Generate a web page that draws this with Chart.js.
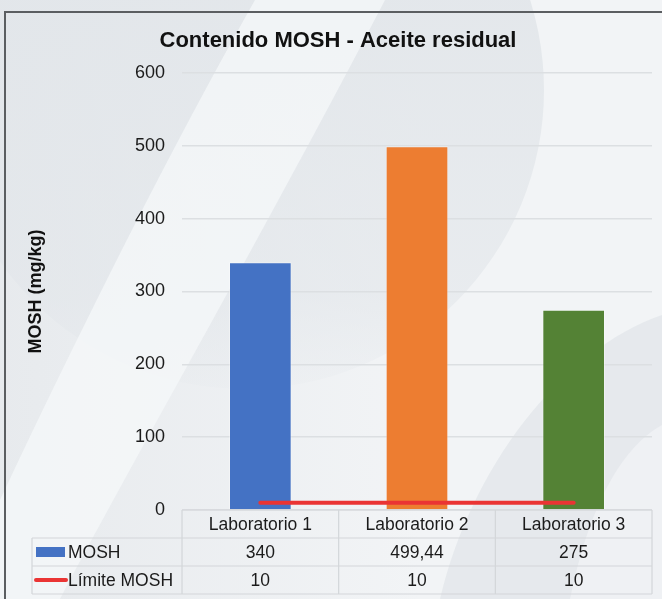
<!DOCTYPE html>
<html>
<head>
<meta charset="utf-8">
<script src="https://cdn.jsdelivr.net/npm/chart.js@4/dist/chart.umd.min.js"></script>
<style>
  html, body { margin: 0; padding: 0; background: #eceff2; }
  #wrap { width: 662px; height: 599px; }
</style>
</head>
<body>
<div id="wrap"><canvas id="c" width="662" height="599"></canvas></div>
<script>
// Data
const categories = ['Laboratorio 1', 'Laboratorio 2', 'Laboratorio 3'];
const moshValues = [340, 499.44, 275];
const limitValues = [10, 10, 10];
const seriesNames = ['MOSH', 'Límite MOSH'];
const yTicks = [0, 100, 200, 300, 400, 500, 600];
const chartTitle = 'Contenido MOSH - Aceite residual';
const yAxisTitle = 'MOSH (mg/kg)';

// Styles
const barColors = ['#4472c4', '#ed7d31', '#548235'];
const limitColor = '#ea3434';
const FONT = "'Liberation Sans', Arial, Helvetica, sans-serif";
const TEXT = '#1b1b1b';
const LINE = '#d3d6d9';

const fmt = v => String(v).replace('.', ',');

// Soft watermark shapes behind the chart and the outer frame
const backdrop = {
  id: 'backdrop',
  beforeDraw(chart) {
    const ctx = chart.ctx;
    const W = chart.width, H = chart.height;
    ctx.save();
    ctx.fillStyle = '#f2f4f6';
    ctx.fillRect(0, 0, W, H);

    // left half slightly darker, fading out
    let g = ctx.createLinearGradient(0, 0, 420, 0);
    g.addColorStop(0, 'rgba(222,226,230,0.55)');
    g.addColorStop(1, 'rgba(222,226,230,0)');
    ctx.fillStyle = g;
    ctx.fillRect(0, 0, 420, H);

    // large round shape, upper middle, fading downwards
    g = ctx.createLinearGradient(0, 0, 0, 420);
    g.addColorStop(0, 'rgba(226,230,234,0.9)');
    g.addColorStop(0.7, 'rgba(226,230,234,0.6)');
    g.addColorStop(1, 'rgba(226,230,234,0)');
    ctx.fillStyle = g;
    ctx.beginPath();
    ctx.arc(245, 90, 299, 0, Math.PI * 2);
    ctx.fill();

    // light diagonal sweep
    ctx.fillStyle = 'rgba(246,248,250,0.75)';
    ctx.beginPath();
    ctx.moveTo(255, 0);
    ctx.bezierCurveTo(170, 150, 80, 330, 0, 500);
    ctx.lineTo(0, 599); ctx.lineTo(60, 599);
    ctx.bezierCurveTo(150, 430, 260, 240, 385, 0);
    ctx.closePath();
    ctx.fill();

    // lower right crescent
    ctx.fillStyle = 'rgba(226,230,234,0.75)';
    ctx.beginPath();
    ctx.moveTo(440, 599);
    ctx.bezierCurveTo(470, 470, 560, 350, 662, 315);
    ctx.lineTo(662, 599);
    ctx.closePath();
    ctx.fill();
    ctx.fillStyle = 'rgba(242,244,246,0.7)';
    ctx.beginPath();
    ctx.moveTo(570, 599);
    ctx.bezierCurveTo(590, 500, 625, 445, 662, 425);
    ctx.lineTo(662, 599);
    ctx.closePath();
    ctx.fill();

    // frame
    ctx.strokeStyle = '#5b5e61';
    ctx.lineWidth = 2;
    ctx.beginPath();
    ctx.moveTo(5, H + 2);
    ctx.lineTo(5, 12);
    ctx.lineTo(W + 2, 12);
    ctx.stroke();
    ctx.restore();
  }
};

// Chart heading
const heading = {
  id: 'heading',
  afterDraw(chart) {
    const ctx = chart.ctx;
    ctx.save();
    ctx.font = 'bold 22px ' + FONT;
    ctx.fillStyle = '#111';
    ctx.textAlign = 'center';
    ctx.textBaseline = 'alphabetic';
    ctx.fillText(chartTitle, 338, 47);
    ctx.restore();
  }
};

// Data table under the plot, aligned with the category scale
const dataTable = {
  id: 'dataTable',
  afterDraw(chart) {
    const ctx = chart.ctx;
    const x = chart.scales.x;
    const area = chart.chartArea;
    const rowH = 28;
    const top = area.bottom;
    const tableLeft = 32;
    const n = categories.length;
    const colW = (area.right - area.left) / n;
    const bounds = [];
    for (let i = 0; i <= n; i++) bounds.push(area.left + colW * i);

    ctx.save();
    ctx.strokeStyle = LINE;
    ctx.lineWidth = 1.2;
    ctx.beginPath();
    ctx.moveTo(area.left, top); ctx.lineTo(area.right, top);
    for (let r = 1; r <= 3; r++) {
      ctx.moveTo(tableLeft, top + rowH * r);
      ctx.lineTo(area.right, top + rowH * r);
    }
    bounds.forEach(b => { ctx.moveTo(b, top); ctx.lineTo(b, top + rowH * 3); });
    ctx.moveTo(tableLeft, top + rowH); ctx.lineTo(tableLeft, top + rowH * 3);
    ctx.stroke();

    ctx.font = '17.5px ' + FONT;
    ctx.fillStyle = TEXT;
    ctx.textAlign = 'center';
    ctx.textBaseline = 'middle';
    categories.forEach((c, i) => {
      const cx = x.getPixelForValue(i);
      ctx.fillText(c, cx, top + rowH * 0.5 + 1);
      ctx.fillText(fmt(moshValues[i]), cx, top + rowH * 1.5 + 1);
      ctx.fillText(fmt(limitValues[i]), cx, top + rowH * 2.5 + 1);
    });

    // series keys
    const y1 = top + rowH * 1.5, y2 = top + rowH * 2.5;
    ctx.fillStyle = barColors[0];
    ctx.fillRect(36, y1 - 5, 29, 10);
    ctx.strokeStyle = limitColor;
    ctx.lineWidth = 4;
    ctx.lineCap = 'round';
    ctx.beginPath();
    ctx.moveTo(36, y2); ctx.lineTo(66, y2);
    ctx.stroke();
    ctx.fillStyle = TEXT;
    ctx.textAlign = 'left';
    ctx.fillText(seriesNames[0], 68, y1 + 1);
    ctx.fillText(seriesNames[1], 68, y2 + 1);
    ctx.restore();
  }
};

new Chart(document.getElementById('c'), {
  data: {
    labels: categories,
    datasets: [
      {
        type: 'line',
        label: seriesNames[1],
        data: limitValues,
        borderColor: limitColor,
        borderWidth: 4,
        borderCapStyle: 'round',
        pointRadius: 0,
        order: 0
      },
      {
        type: 'bar',
        label: seriesNames[0],
        data: moshValues,
        backgroundColor: barColors,
        borderColor: 'rgba(255,255,255,0.35)',
        borderWidth: 1,
        categoryPercentage: 1,
        barPercentage: 0.4,
        order: 1
      }
    ]
  },
  options: {
    responsive: false,
    animation: false,
    layout: { padding: { left: 0, right: 10, top: 73, bottom: 89 } },
    plugins: {
      legend: { display: false },
      title: { display: false },
      tooltip: { enabled: false }
    },
    scales: {
      x: { display: false, offset: true },
      y: {
        min: yTicks[0],
        max: yTicks[yTicks.length - 1],
        afterFit(scale) { scale.width = 182; },
        afterBuildTicks(scale) { scale.ticks = yTicks.map(v => ({ value: v })); },
        ticks: {
          padding: 17,
          color: TEXT,
          font: { family: FONT, size: 18 }
        },
        grid: { color: '#dcdfe2', lineWidth: 1.5, drawTicks: false },
        border: { display: false },
        title: {
          display: true,
          text: yAxisTitle,
          color: '#111',
          font: { family: FONT, size: 18, weight: 'bold' },
          padding: { top: 25, bottom: 0 }
        }
      }
    }
  },
  plugins: [backdrop, heading, dataTable]
});
</script>
</body>
</html>
